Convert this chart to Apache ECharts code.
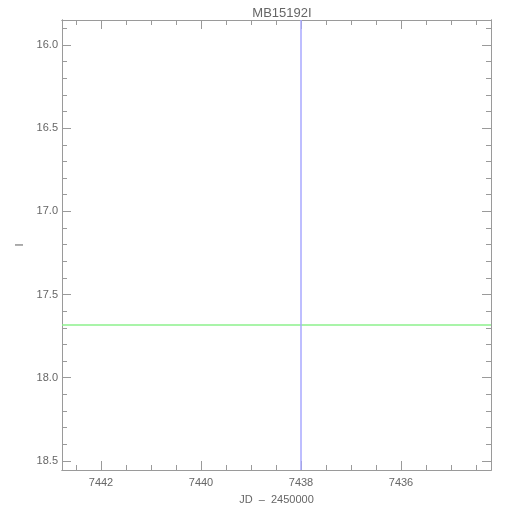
<!DOCTYPE html>
<html><head><meta charset="utf-8">
<script src="https://cdn.jsdelivr.net/npm/echarts@6/dist/echarts.min.js"></script>
<style>html,body{margin:0;padding:0;background:#fff}#c{width:510px;height:510px}</style>
</head><body><div id="c"></div>
<script>
const titleText = 'MB15192I';
const xName = 'JD  \u2013  2450000';
const yName = 'I';
const xRange = [7434.2, 7442.78];
const yRange = [15.85, 18.555];
const xMajorTicks = [7442, 7440, 7438, 7436];
const yMajorTicks = [16.0, 16.5, 17.0, 17.5, 18.0, 18.5];
const eventJD = [7438.0];
const baselineMag = [17.68];

const xMinorTicks = [];
for (let v = 7434.5; v <= 7442.6; v += 0.5) xMinorTicks.push(+v.toFixed(1));
const yMinorTicks = [];
for (let v = 15.9; v <= 18.55; v += 0.1) yMinorTicks.push(+v.toFixed(1));

const axCol = '#9a9a9a';
const txtCol = '#666';
const font = 'Liberation Sans, Arial, sans-serif';

function xAx(pos, ticks, len, labels) {
  return {
    type: 'value', position: pos, inverse: true, min: xRange[0], max: xRange[1],
    splitLine: {show: false},
    axisLine: {show: true, onZero: false, lineStyle: {color: axCol, width: 1}},
    axisTick: {show: true, inside: true, length: len, customValues: ticks, lineStyle: {color: axCol}},
    axisLabel: labels ? {show: true, customValues: ticks, color: txtCol, fontSize: 11, fontFamily: font, margin: 7,
      formatter: v => String(Math.round(v))} : {show: false},
    name: labels ? xName : '', nameLocation: 'middle', nameGap: 24,
    nameTextStyle: {color: txtCol, fontSize: 11, fontFamily: font}
  };
}
function yAx(pos, ticks, len, labels) {
  return {
    type: 'value', position: pos, inverse: true, min: yRange[0], max: yRange[1],
    splitLine: {show: false},
    axisLine: {show: true, onZero: false, lineStyle: {color: axCol, width: 1}},
    axisTick: {show: true, inside: true, length: len, customValues: ticks, lineStyle: {color: axCol}},
    axisLabel: labels ? {show: true, customValues: ticks, color: txtCol, fontSize: 11, fontFamily: font, margin: 4,
      formatter: v => v.toFixed(1)} : {show: false},
    name: labels ? yName : '', nameLocation: 'middle', nameGap: 37, nameRotate: 90,
    nameTextStyle: {color: txtCol, fontSize: 11, fontFamily: font}
  };
}

const chart = echarts.init(document.getElementById('c'), null, {renderer: 'canvas'});
chart.setOption({
  animation: false,
  backgroundColor: '#fff',
  title: {text: titleText, left: 277, textAlign: 'center', top: 2,
    textStyle: {color: txtCol, fontSize: 13, fontWeight: 'normal', fontFamily: font}},
  grid: {left: 62, right: 19, top: 20, bottom: 40, containLabel: false},
  xAxis: [
    xAx('bottom', xMajorTicks, 9, true),
    xAx('bottom', xMinorTicks, 5, false),
    xAx('top', xMajorTicks, 9, false),
    xAx('top', xMinorTicks, 5, false)
  ],
  yAxis: [
    yAx('left', yMajorTicks, 9, true),
    yAx('left', yMinorTicks, 5, false),
    yAx('right', yMajorTicks, 9, false),
    yAx('right', yMinorTicks, 5, false)
  ],
  series: [{
    type: 'line', xAxisIndex: 0, yAxisIndex: 0, data: [], silent: true,
    markLine: {
      symbol: 'none', silent: true, label: {show: false},
      data: [
        ...baselineMag.map(v => ({yAxis: v, lineStyle: {color: '#8cf08c', width: 1.5, type: 'solid'}})),
        ...eventJD.map(v => ({xAxis: v, lineStyle: {color: '#a8a8ff', width: 1.5, type: 'solid'}}))
      ]
    }
  }]
});
</script></body></html>
